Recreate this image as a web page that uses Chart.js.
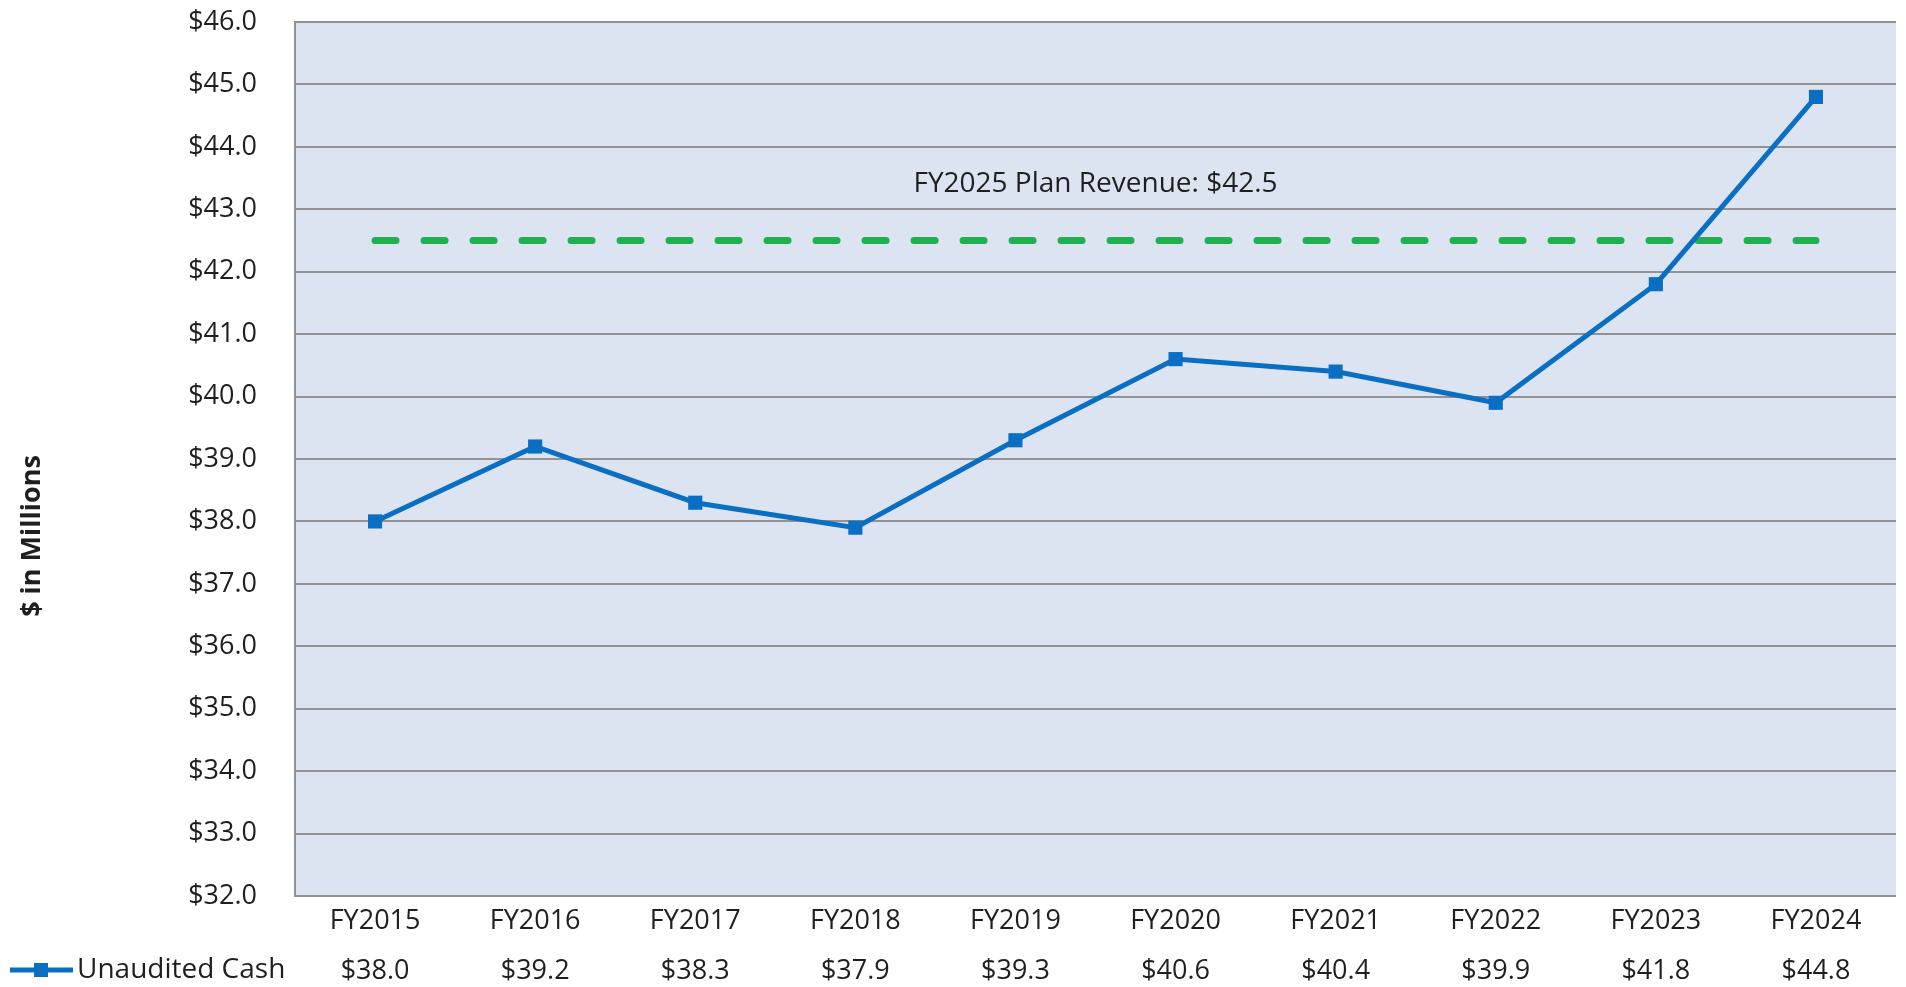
<!DOCTYPE html>
<html>
<head>
<meta charset="utf-8">
<script src="https://cdn.jsdelivr.net/npm/chart.js@4"></script>
<style>
  body { margin: 0; background: #fff; }
  canvas { display: block; }
</style>
</head>
<body>
<canvas id="cashChart" width="1906" height="987"></canvas>
<script>
// Data
const years = ['FY2015', 'FY2016', 'FY2017', 'FY2018', 'FY2019', 'FY2020', 'FY2021', 'FY2022', 'FY2023', 'FY2024'];
const cash = [38.0, 39.2, 38.3, 37.9, 39.3, 40.6, 40.4, 39.9, 41.8, 44.8];
const planValue = 42.5;
const planLine = years.map(() => planValue);
const seriesName = 'Unaudited Cash';
const yMin = 32, yMax = 46;

const FONT = '"Open Sans", "DejaVu Sans", sans-serif';
const BLUE = '#0a6fc2';
const GREEN = '#1db14f';
const GRID = '#929292';
const TEXT = '#1f1f1f';

// plot background, plan label, legend key and axis title
const extras = {
  id: 'extras',
  beforeDraw(chart) {
    const { ctx, chartArea: a } = chart;
    ctx.save();
    ctx.fillStyle = '#dce4f2';
    ctx.fillRect(a.left, a.top, a.right - a.left, a.bottom - a.top);
    ctx.restore();
  },
  afterDraw(chart) {
    const { ctx, chartArea: a, scales } = chart;
    ctx.save();
    // plan label
    ctx.fillStyle = TEXT;
    ctx.font = '28px ' + FONT;
    ctx.textAlign = 'center';
    ctx.textBaseline = 'middle';
    ctx.fillText('FY2025 Plan Revenue: $' + planValue.toFixed(1), (a.left + a.right) / 2, scales.y.getPixelForValue(planValue) - 56);

    // data table legend key
    const rowY = 970;
    ctx.strokeStyle = BLUE;
    ctx.lineWidth = 5;
    ctx.beginPath();
    ctx.moveTo(10, rowY);
    ctx.lineTo(73, rowY);
    ctx.stroke();
    ctx.fillStyle = BLUE;
    ctx.fillRect(34, rowY - 7, 14, 14);
    ctx.fillStyle = TEXT;
    ctx.textAlign = 'left';
    ctx.font = '28px ' + FONT;
    ctx.fillText(seriesName, 77, rowY);

    // y axis title
    ctx.translate(32, 536);
    ctx.rotate(-Math.PI / 2);
    ctx.textAlign = 'center';
    ctx.font = 'bold 27px ' + FONT;
    ctx.fillText('$ in Millions', 0, 0);
    ctx.restore();
  }
};

new Chart(document.getElementById('cashChart').getContext('2d'), {
  type: 'line',
  data: {
    labels: years,
    datasets: [
      {
        label: seriesName,
        data: cash,
        borderColor: BLUE,
        backgroundColor: BLUE,
        borderWidth: 5,
        pointStyle: 'rect',
        pointRadius: 10,
        pointBorderWidth: 0,
        tension: 0,
        order: 0
      },
      {
        label: 'FY2025 Plan Revenue',
        data: planLine,
        borderColor: GREEN,
        borderWidth: 7,
        borderDash: [21, 28],
        borderCapStyle: 'round',
        pointRadius: 0,
        order: 1
      }
    ]
  },
  options: {
    responsive: false,
    animation: false,
    layout: { padding: { top: 22, right: 6, left: 0, bottom: 0 } },
    plugins: { legend: { display: false }, tooltip: { enabled: false } },
    scales: {
      x: {
        offset: true,
        grid: { display: false, drawTicks: false },
        border: { display: false },
        ticks: {
          padding: 0,
          maxRotation: 0,
          autoSkip: false,
          color: TEXT,
          font: { family: FONT, size: 27, lineHeight: 50 / 27 },
          callback: (v, i) => [years[i], '$' + cash[i].toFixed(1)]
        },
        afterFit: s => { s.height = 91; s.paddingLeft = 0; s.paddingRight = 0; }
      },
      y: {
        min: yMin,
        max: yMax,
        grid: { color: GRID, lineWidth: 2, drawTicks: false },
        border: { display: true, color: GRID, width: 2 },
        ticks: {
          stepSize: 1,
          padding: 38,
          color: TEXT,
          font: { family: FONT, size: 27 },
          callback: v => '$' + v.toFixed(1)
        },
        afterFit: s => { s.width = 295; s.paddingTop = 0; s.paddingBottom = 0; }
      }
    }
  },
  plugins: [extras]
});
</script>
</body>
</html>
